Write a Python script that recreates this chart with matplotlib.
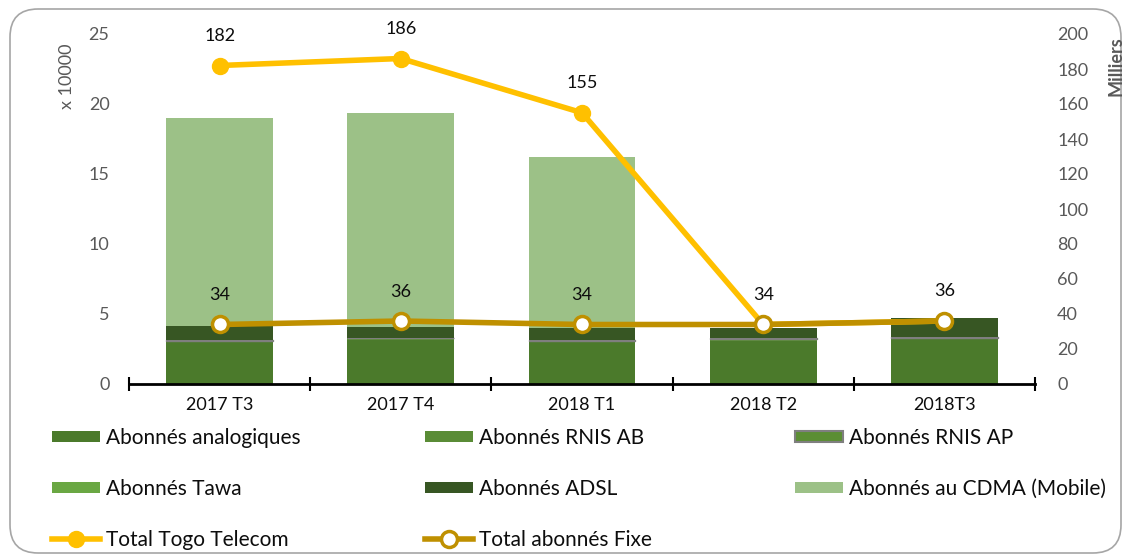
import matplotlib
matplotlib.use("Agg")
import matplotlib.pyplot as plt
import numpy as np
from matplotlib.patches import FancyBboxPatch, Patch

plt.rcParams['font.family'] = ['Lato', 'DejaVu Sans']

categories = ["2017 T3", "2017 T4", "2018 T1", "2018 T2", "2018T3"]
# stacked bars, unit: x 10000
analogiques = [2.98, 3.15, 2.98, 3.10, 3.20]
rnis_ab = [0.12, 0.12, 0.12, 0.12, 0.12]
rnis_ap = [0.04, 0.04, 0.04, 0.04, 0.04]
tawa = [0.00, 0.00, 0.00, 0.00, 0.00]
adsl = [1.00, 0.78, 0.84, 0.76, 1.35]
cdma = [14.84, 15.27, 12.23, 0.00, 0.00]
# lines, unit: milliers (right axis)
total_togo = [182, 186, 155, 34, 36]
total_fixe = [34, 36, 34, 34, 36]

series = [
    ("Abonnés analogiques", analogiques, "#4b7a2b", "none"),
    ("Abonnés RNIS AB", rnis_ab, "#5a8c36", "none"),
    ("Abonnés RNIS AP", rnis_ap, "#5b8e33", "#7f7f7f"),
    ("Abonnés Tawa", tawa, "#6aa743", "none"),
    ("Abonnés ADSL", adsl, "#375623", "none"),
    ("Abonnés au CDMA (Mobile)", cdma, "#9cc187", "none"),
]

fig = plt.figure(figsize=(11.24, 5.57), dpi=100)
ax = fig.add_axes([129/1124, 1-384/557, (1035-129)/1124, 350/557])
x = np.arange(len(categories))
bottom = np.zeros(len(categories))
for name, vals, col, ec in series:
    v = np.array(vals)
    ax.bar(x, v, 0.59, bottom=bottom, color=col,
           edgecolor=ec if ec != "none" else col,
           linewidth=1.0 if ec != "none" else 0, label=name, zorder=2)
    bottom += v

ax.set_xlim(-0.5, 4.5)
ax.set_ylim(0, 25)
ax.set_yticks(range(0, 26, 5))
ax.set_xticks(x)
ax.set_xticklabels(categories)
ax.set_xticks(np.arange(-0.5, 5, 1), minor=True)
ax.tick_params(axis='x', which='major', length=0, labelsize=13, pad=9, labelcolor='#0d0d0d')
ax.tick_params(axis='x', which='minor', length=10, width=1.5, direction='inout', color='black')
ax.tick_params(axis='y', length=0, labelsize=13, labelcolor='#595959', pad=14)
for s in ['top', 'right', 'left']:
    ax.spines[s].set_visible(False)
ax.spines['bottom'].set_linewidth(2)
ax.spines['bottom'].set_zorder(5)

ax2 = ax.twinx()
ax2.set_ylim(0, 200)
ax2.set_yticks(range(0, 201, 20))
ax2.tick_params(axis='y', length=0, labelsize=13, labelcolor='#595959', pad=16)
for s in ['top', 'right', 'left', 'bottom']:
    ax2.spines[s].set_visible(False)

l1, = ax2.plot(x, total_togo, color="#FFC000", lw=4, marker='o', ms=11.5,
               mfc="#FFC000", mec="#FFC000", label="Total Togo Telecom", zorder=4)
l2, = ax2.plot(x, total_fixe, color="#BF9000", lw=4, marker='o', ms=11.5,
               mfc="white", mec="#BF9000", mew=2.5, label="Total abonnés Fixe", zorder=5)
for xi, v in zip(x, total_togo):
    ax2.annotate(str(v), (xi, v), xytext=(0, 21.5), textcoords='offset points',
                 ha='center', va='center', fontsize=13, color='#0d0d0d')
for xi, v, t in zip(x, total_fixe, total_togo):
    if v == t:
        continue  # same label at same place as the Togo Telecom label
    ax2.annotate(str(v), (xi, v), xytext=(0, 21), textcoords='offset points',
                 ha='center', va='center', fontsize=13, color='#0d0d0d')

fig.text(67/1124, 1-76/557, "x 10000", rotation=90, ha='center', va='center',
         fontsize=13, color='#595959')
fig.text(1116/1124, 1-66/557, "Milliers", rotation=90, ha='center', va='center',
         fontsize=13, color='#595959', fontweight='bold')

# Legend in three columns
colmap = {n: (c, e) for n, v, c, e in series}
def legend_col(names, extra, xpos):
    hs = []
    for n in names:
        c, e = colmap[n]
        hs.append(Patch(facecolor=c, edgecolor=(e if e != "none" else c),
                        linewidth=1.5 if e != "none" else 0))
    labels = list(names)
    if extra is not None:
        hs.append(extra)
        labels.append(extra.get_label())
    fig.legend(hs, labels, loc='upper left', bbox_to_anchor=(xpos, 1-428/557),
               frameon=False, fontsize=15, handlelength=2.3, handleheight=0.45,
               labelspacing=1.48, handletextpad=0.3, borderpad=0, borderaxespad=0,
               labelcolor='#0d0d0d')

legend_col(["Abonnés analogiques", "Abonnés Tawa"], l1, 52/1124)
legend_col(["Abonnés RNIS AB", "Abonnés ADSL"], l2, 425/1124)
legend_col(["Abonnés RNIS AP", "Abonnés au CDMA (Mobile)"], None, 795/1124)

frame = FancyBboxPatch((10/1124, 4/557), 1111/1124, 544/557,
                       boxstyle="round,pad=0,rounding_size=0.025",
                       transform=fig.transFigure, facecolor='none',
                       edgecolor='#a6a6a6', linewidth=1.2, mutation_aspect=1124/557)
fig.patches.append(frame)

fig.savefig("out.png", dpi=100, facecolor='white')
